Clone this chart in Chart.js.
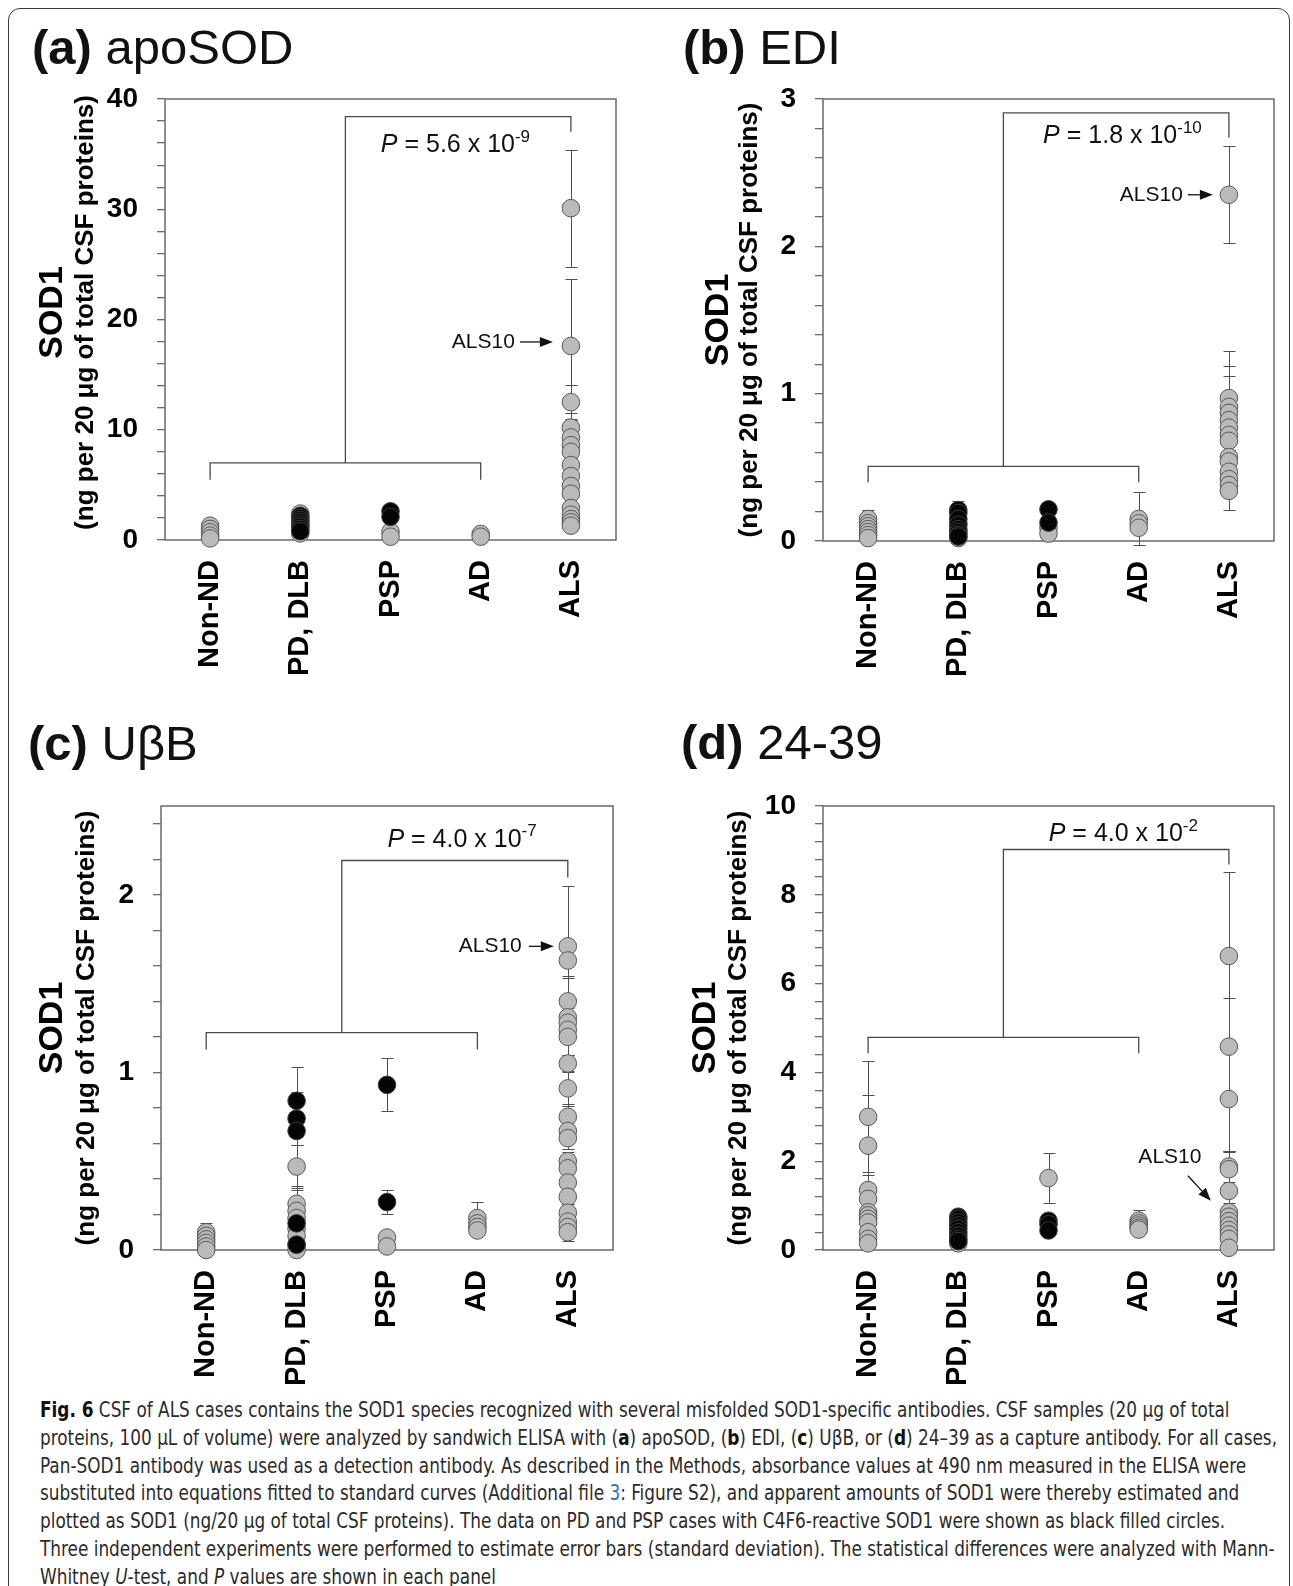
<!DOCTYPE html>
<html>
<head>
<meta charset="utf-8">
<title>CSF SOD1 ELISA</title>
<script src="https://cdn.jsdelivr.net/npm/chart.js@4.4.1/dist/chart.umd.min.js"></script>
<style>
  html, body { margin: 0; padding: 0; background: #fff; }
  body { width: 1293px; height: 1586px; position: relative; overflow: hidden;
         font-family: 'Liberation Sans', Arial, sans-serif; }
  #frame { position: absolute; left: 8px; top: 8px; width: 1282px; height: 1620px;
           border: 1.5px solid #3a3a3a; border-radius: 12px; box-sizing: border-box; }
  .panel-title { position: absolute; font-size: 49px; line-height: 49px; color: #111; white-space: nowrap; }
  canvas.panel { position: absolute; }
  #caption { position: absolute; left: 40px; top: 1397px; color: #2b2b2b;
             font-family: 'Liberation Sans Narrow', 'DejaVu Sans Condensed', 'Liberation Sans', sans-serif;
             font-size: 21px; }
  #caption .line { white-space: nowrap; width: max-content; height: 27.8px; line-height: 27.8px;
                   transform-origin: 0 50%; }
  #caption b { color: #111; }
  #caption .ref { color: #2a6ebb; }
</style>
</head>
<body>
<div id="frame"></div>
<div id="titles"></div>
<div id="caption">
  <div class="line"><b>Fig. 6</b> CSF of ALS cases contains the SOD1 species recognized with several misfolded SOD1-specific antibodies. CSF samples (20 μg of total</div>
  <div class="line">proteins, 100 μL of volume) were analyzed by sandwich ELISA with (<b>a</b>) apoSOD, (<b>b</b>) EDI, (<b>c</b>) UβB, or (<b>d</b>) 24–39 as a capture antibody. For all cases,</div>
  <div class="line">Pan-SOD1 antibody was used as a detection antibody. As described in the Methods, absorbance values at 490 nm measured in the ELISA were</div>
  <div class="line">substituted into equations fitted to standard curves (Additional file <span class="ref">3</span>: Figure S2), and apparent amounts of SOD1 were thereby estimated and</div>
  <div class="line">plotted as SOD1 (ng/20 μg of total CSF proteins). The data on PD and PSP cases with C4F6-reactive SOD1 were shown as black filled circles.</div>
  <div class="line">Three independent experiments were performed to estimate error bars (standard deviation). The statistical differences were analyzed with Mann-</div>
  <div class="line">Whitney <i>U</i>-test, and <i>P</i> values are shown in each panel</div>
</div>
<script>
// ---------------------------------------------------------------------------
// Labels
const CATEGORIES = ['Non-ND', 'PD, DLB', 'PSP', 'AD', 'ALS'];
const PANEL_LETTERS = ['(a)', '(b)', '(c)', '(d)'];
const ANTIBODIES = ['apoSOD', 'EDI', 'UβB', '24-39'];
const Y_TITLE = 'SOD1';
const Y_SUBTITLE = '(ng per 20 μg of total CSF proteins)';
const NOTE_LABEL = 'ALS10';

// y axis range and tick spacing for each panel
const Y_MAX = [40, 3, 2.5, 10];
const Y_MINOR_STEP = [2, 0.2, 0.2, 0.4];
const Y_LABEL_STEP = [10, 1, 1, 2];

// Mann-Whitney U-test P values (mantissa, power of ten)
const P_MANTISSA = ['5.6', '1.8', '4.0', '4.0'];
const P_EXPONENT = ['-9', '-10', '-7', '-2'];

// SOD1 of case ALS10 in each panel
const ALS10_VALUE = [17.6, 2.35, 1.71, 0.75];

// SOD1 (ng / 20 ug CSF protein): [group, mean, SD]
// gray = all cases, black = PD / PSP cases with C4F6-reactive SOD1
const APOSOD_GRAY = [
  ['Non-ND', 1.3, 0.1], ['Non-ND', 1.0, 0.1], ['Non-ND', 0.7, 0.1], ['Non-ND', 0.4, 0.1], ['Non-ND', 0.15, 0.1],
  ['PD, DLB', 2.4, 0.2], ['PD, DLB', 0.6, 0.1],
  ['PSP', 0.75, 0.1], ['PSP', 0.3, 0.1],
  ['AD', 0.55, 0.1], ['AD', 0.3, 0.1],
  ['ALS', 30.1, 5.3], ['ALS', 17.6, 6.1], ['ALS', 12.5, 1.6], ['ALS', 10.2, 0.8], ['ALS', 9.3, 0.6],
  ['ALS', 8.6, 0.5], ['ALS', 8.0, 0.6], ['ALS', 6.8, 0.4], ['ALS', 5.8, 0.5], ['ALS', 4.9, 0.4],
  ['ALS', 4.2, 0.3], ['ALS', 2.9, 0.2], ['ALS', 2.3, 0.2], ['ALS', 1.9, 0.2], ['ALS', 1.6, 0.1], ['ALS', 1.3, 0.1]
];
const APOSOD_BLACK = [
  ['PD, DLB', 2.2, 0.2], ['PD, DLB', 2.0, 0.1], ['PD, DLB', 1.8, 0.1], ['PD, DLB', 1.6, 0.1],
  ['PD, DLB', 1.4, 0.1], ['PD, DLB', 1.2, 0.1], ['PD, DLB', 1.0, 0.1], ['PD, DLB', 0.8, 0.1],
  ['PSP', 2.6, 0.1], ['PSP', 2.1, 0.1]
];

const EDI_GRAY = [
  ['Non-ND', 0.15, 0.06], ['Non-ND', 0.12, 0.04], ['Non-ND', 0.10, 0.03], ['Non-ND', 0.08, 0.03],
  ['Non-ND', 0.06, 0.02], ['Non-ND', 0.04, 0.02], ['Non-ND', 0.02, 0.02],
  ['PD, DLB', 0.12, 0.03], ['PD, DLB', 0.06, 0.02], ['PD, DLB', 0.02, 0.02],
  ['PSP', 0.09, 0.02], ['PSP', 0.05, 0.02],
  ['AD', 0.15, 0.18], ['AD', 0.12, 0.04], ['AD', 0.09, 0.03],
  ['ALS', 2.35, 0.33], ['ALS', 0.97, 0.32], ['ALS', 0.91, 0.10], ['ALS', 0.87, 0.32], ['ALS', 0.82, 0.30],
  ['ALS', 0.77, 0.10], ['ALS', 0.72, 0.10], ['ALS', 0.68, 0.08], ['ALS', 0.57, 0.10], ['ALS', 0.54, 0.08],
  ['ALS', 0.47, 0.08], ['ALS', 0.42, 0.06], ['ALS', 0.38, 0.06], ['ALS', 0.34, 0.13]
];
const EDI_BLACK = [
  ['PD, DLB', 0.21, 0.06], ['PD, DLB', 0.19, 0.04], ['PD, DLB', 0.15, 0.03], ['PD, DLB', 0.11, 0.03],
  ['PD, DLB', 0.08, 0.02], ['PD, DLB', 0.06, 0.02], ['PD, DLB', 0.04, 0.02], ['PD, DLB', 0.03, 0.02],
  ['PSP', 0.215, 0.02], ['PSP', 0.125, 0.02]
];

const UBB_GRAY = [
  ['Non-ND', 0.10, 0.05], ['Non-ND', 0.08, 0.03], ['Non-ND', 0.06, 0.03], ['Non-ND', 0.04, 0.02],
  ['Non-ND', 0.02, 0.02], ['Non-ND', 0.0, 0.02],
  ['PD, DLB', 0.47, 0.12], ['PD, DLB', 0.26, 0.10], ['PD, DLB', 0.22, 0.12], ['PD, DLB', 0.18, 0.10],
  ['PD, DLB', 0.12, 0.05], ['PD, DLB', 0.08, 0.04], ['PD, DLB', 0.03, 0.02], ['PD, DLB', 0.0, 0.02],
  ['PSP', 0.07, 0.02], ['PSP', 0.02, 0.02],
  ['AD', 0.18, 0.09], ['AD', 0.15, 0.07], ['AD', 0.13, 0.03], ['AD', 0.11, 0.02],
  ['ALS', 1.71, 0.34], ['ALS', 1.63, 0.10], ['ALS', 1.40, 0.14], ['ALS', 1.31, 0.10], ['ALS', 1.28, 0.08],
  ['ALS', 1.24, 0.06], ['ALS', 1.20, 0.10], ['ALS', 1.05, 0.05], ['ALS', 0.91, 0.10], ['ALS', 0.75, 0.07],
  ['ALS', 0.67, 0.05], ['ALS', 0.63, 0.06], ['ALS', 0.50, 0.05], ['ALS', 0.46, 0.05], ['ALS', 0.38, 0.05],
  ['ALS', 0.30, 0.04], ['ALS', 0.21, 0.05], ['ALS', 0.16, 0.05], ['ALS', 0.13, 0.05], ['ALS', 0.10, 0.05]
];
const UBB_BLACK = [
  ['PD, DLB', 0.84, 0.19], ['PD, DLB', 0.74, 0.15], ['PD, DLB', 0.67, 0.08], ['PD, DLB', 0.15, 0.05], ['PD, DLB', 0.03, 0.02],
  ['PSP', 0.93, 0.15], ['PSP', 0.27, 0.07]
];

const AB2439_GRAY = [
  ['Non-ND', 3.0, 1.25], ['Non-ND', 2.35, 1.15], ['Non-ND', 1.35, 0.35], ['Non-ND', 1.15, 0.37],
  ['Non-ND', 0.85, 0.2], ['Non-ND', 0.78, 0.2], ['Non-ND', 0.70, 0.15], ['Non-ND', 0.62, 0.1],
  ['Non-ND', 0.40, 0.1], ['Non-ND', 0.25, 0.1], ['Non-ND', 0.15, 0.05],
  ['PD, DLB', 0.15, 0.05],
  ['PSP', 1.62, 0.56],
  ['AD', 0.66, 0.23], ['AD', 0.60, 0.1], ['AD', 0.55, 0.1], ['AD', 0.50, 0.1], ['AD', 0.46, 0.1],
  ['ALS', 6.62, 1.9], ['ALS', 4.58, 1.09], ['ALS', 3.40, 1.2], ['ALS', 1.88, 0.35], ['ALS', 1.82, 0.4],
  ['ALS', 1.33, 0.35], ['ALS', 0.85, 0.2], ['ALS', 0.75, 0.2], ['ALS', 0.65, 0.15], ['ALS', 0.55, 0.1],
  ['ALS', 0.45, 0.1], ['ALS', 0.35, 0.1], ['ALS', 0.25, 0.1], ['ALS', 0.05, 0.05]
];
const AB2439_BLACK = [
  ['PD, DLB', 0.75, 0.1], ['PD, DLB', 0.70, 0.1], ['PD, DLB', 0.62, 0.1], ['PD, DLB', 0.55, 0.08],
  ['PD, DLB', 0.48, 0.08], ['PD, DLB', 0.40, 0.06], ['PD, DLB', 0.32, 0.06], ['PD, DLB', 0.25, 0.05], ['PD, DLB', 0.20, 0.05],
  ['PSP', 0.66, 0.1], ['PSP', 0.58, 0.1], ['PSP', 0.44, 0.08]
];

const GRAY_SETS = [APOSOD_GRAY, EDI_GRAY, UBB_GRAY, AB2439_GRAY];
const BLACK_SETS = [APOSOD_BLACK, EDI_BLACK, UBB_BLACK, AB2439_BLACK];

// ---------------------------------------------------------------------------
// Page layout of the four panels (page pixels); bracket levels in axis units
const PANEL_LAYOUT = [
  { canvas: { left: 0, top: 59, width: 646, height: 641 }, area: { left: 165, top: 99, right: 616, bottom: 540 },
    title: { x: 32, baseline: 64 }, yTitleX: [53, 86], yTitleShift: -7,
    bracket: { low: 7.0, high: 38.4, legLow: 17, legHigh: 15 }, pAt: [3.22, 36.0],
    note: { kind: 'h', textEnd: -56, from: -51, to: -18, dy: -4 } },
  { canvas: { left: 646, top: 59, width: 647, height: 641 }, area: { left: 823, top: 99, right: 1274, bottom: 541 },
    title: { x: 683, baseline: 64 }, yTitleX: [719, 750], yTitleShift: 0,
    bracket: { low: 0.507, high: 2.906, legLow: 16, legHigh: 25 }, pAt: [3.32, 2.76],
    note: { kind: 'h', textEnd: -46, from: -41, to: -16, dy: 0 } },
  { canvas: { left: 0, top: 766, width: 646, height: 634 }, area: { left: 161, top: 806, right: 613, bottom: 1250 },
    title: { x: 28, baseline: 760 }, yTitleX: [53, 87], yTitleShift: 0,
    bracket: { low: 1.224, high: 2.193, legLow: 17, legHigh: 17 }, pAt: [3.33, 2.32],
    note: { kind: 'h', textEnd: -46, from: -39, to: -14, dy: 0 } },
  { canvas: { left: 646, top: 766, width: 647, height: 634 }, area: { left: 823, top: 806, right: 1274, bottom: 1250 },
    title: { x: 681, baseline: 759 }, yTitleX: [706, 739], yTitleShift: 0,
    bracket: { low: 4.79, high: 9.02, legLow: 16, legHigh: 15 }, pAt: [3.33, 9.41],
    note: { kind: 'd', text: [-59, -59], from: [-41, -41], to: [-18, -16] } }
];

const FONT = "'Liberation Sans', Arial, sans-serif";
const TITLE_SIZE = 49;
const Y_AXIS_W = 70;
const X_AXIS_H = 140;

Chart.defaults.font.family = FONT;
Chart.defaults.color = '#000';

const groupX = name => CATEGORIES.indexOf(name) + 0.5;
const toPoints = rows => rows.map(([g, v, sd]) => ({ x: groupX(g), y: v, sd }));

function drawArrow(ctx, x1, y1, x2, y2) {
  const ang = Math.atan2(y2 - y1, x2 - x1), len = 13, half = 5;
  const bx = x2 - len * Math.cos(ang), by = y2 - len * Math.sin(ang);
  ctx.beginPath(); ctx.moveTo(x1, y1); ctx.lineTo(bx, by); ctx.stroke();
  ctx.beginPath();
  ctx.moveTo(x2, y2);
  ctx.lineTo(bx + half * Math.sin(ang), by - half * Math.cos(ang));
  ctx.lineTo(bx - half * Math.sin(ang), by + half * Math.cos(ang));
  ctx.closePath(); ctx.fill();
}

// Frame, comparison brackets, SD bars, P value, ALS10 note and y-axis titles
const figurePlugin = {
  id: 'figure',
  beforeDatasetsDraw(chart, _args, opts) {
    const { ctx, chartArea: a, scales: { x, y } } = chart;
    const L = PANEL_LAYOUT[opts.index];
    ctx.save();
    ctx.strokeStyle = '#6a6a6a'; ctx.lineWidth = 1.5;
    ctx.strokeRect(a.left, a.top, a.right - a.left, a.bottom - a.top);

    const xa = x.getPixelForValue(groupX('Non-ND'));
    const xb = x.getPixelForValue(groupX('AD'));
    const xc = x.getPixelForValue(groupX('ALS'));
    const xm = (xa + xb) / 2;
    const yl = y.getPixelForValue(L.bracket.low), yh = y.getPixelForValue(L.bracket.high);
    ctx.strokeStyle = '#4a4a4a'; ctx.lineWidth = 1.3;
    ctx.beginPath();
    ctx.moveTo(xa, yl + L.bracket.legLow); ctx.lineTo(xa, yl); ctx.lineTo(xb, yl); ctx.lineTo(xb, yl + L.bracket.legLow);
    ctx.moveTo(xm, yl); ctx.lineTo(xm, yh); ctx.lineTo(xc, yh); ctx.lineTo(xc, yh + L.bracket.legHigh);
    ctx.stroke();

    ctx.strokeStyle = '#505050'; ctx.lineWidth = 1;
    chart.data.datasets.forEach(ds => ds.data.forEach(pt => {
      const px = Math.round(x.getPixelForValue(pt.x)) + 0.5;
      const t = Math.round(y.getPixelForValue(pt.y + pt.sd)) + 0.5;
      const b = Math.round(y.getPixelForValue(pt.y - pt.sd)) + 0.5;
      ctx.beginPath();
      ctx.moveTo(px, t); ctx.lineTo(px, b);
      ctx.moveTo(px - 6, t); ctx.lineTo(px + 6, t);
      ctx.moveTo(px - 6, b); ctx.lineTo(px + 6, b);
      ctx.stroke();
    }));
    ctx.restore();
  },
  afterDatasetsDraw(chart, _args, opts) {
    const { ctx, scales: { x, y } } = chart;
    const i = opts.index, L = PANEL_LAYOUT[i];
    ctx.save();
    ctx.fillStyle = '#111'; ctx.strokeStyle = '#111';
    ctx.textAlign = 'left'; ctx.textBaseline = 'alphabetic';

    // P value, centred on its anchor
    const size = 25;
    const parts = [
      { t: 'P', f: `italic ${size}px ${FONT}`, rise: 0 },
      { t: ` = ${P_MANTISSA[i]} x 10`, f: `${size}px ${FONT}`, rise: 0 },
      { t: P_EXPONENT[i], f: `${Math.round(size * 0.68)}px ${FONT}`, rise: size * 0.42 }
    ];
    let w = 0;
    parts.forEach(p => { ctx.font = p.f; p.w = ctx.measureText(p.t).width; w += p.w; });
    let cur = x.getPixelForValue(L.pAt[0]) - w / 2;
    const base = y.getPixelForValue(L.pAt[1]) + size * 0.36;
    parts.forEach(p => { ctx.font = p.f; ctx.fillText(p.t, cur, base - p.rise); cur += p.w; });

    // ALS10 note with arrow
    const ax = x.getPixelForValue(groupX('ALS')), ay = y.getPixelForValue(ALS10_VALUE[i]);
    const n = L.note;
    ctx.font = `21px ${FONT}`;
    ctx.lineWidth = 1.3;
    if (n.kind === 'h') {
      ctx.textAlign = 'right'; ctx.textBaseline = 'middle';
      ctx.fillText(NOTE_LABEL, ax + n.textEnd, ay + n.dy);
      drawArrow(ctx, ax + n.from, ay + n.dy, ax + n.to, ay + n.dy);
    } else {
      ctx.textAlign = 'center'; ctx.textBaseline = 'middle';
      ctx.fillText(NOTE_LABEL, ax + n.text[0], ay + n.text[1]);
      drawArrow(ctx, ax + n.from[0], ay + n.from[1], ax + n.to[0], ay + n.to[1]);
    }
    ctx.restore();
  },
  afterDraw(chart, _args, opts) {
    const { ctx, chartArea: a } = chart;
    const L = PANEL_LAYOUT[opts.index];
    const cy = (a.top + a.bottom) / 2 + L.yTitleShift;
    ctx.save();
    ctx.fillStyle = '#000'; ctx.textAlign = 'center'; ctx.textBaseline = 'middle';
    [[Y_TITLE, `bold 34px ${FONT}`, L.yTitleX[0]], [Y_SUBTITLE, `bold 26px ${FONT}`, L.yTitleX[1]]]
      .forEach(([t, f, px]) => {
        ctx.save();
        ctx.translate(px - L.canvas.left, cy);
        ctx.rotate(-Math.PI / 2);
        ctx.font = f;
        ctx.fillText(t, 0, 0);
        ctx.restore();
      });
    ctx.restore();
  }
};

function yTicks(i) {
  const out = [];
  const n = Math.floor(Y_MAX[i] / Y_MINOR_STEP[i] + 1e-9);
  for (let k = 0; k <= n; k++) out.push({ value: +(k * Y_MINOR_STEP[i]).toFixed(6) });
  return out;
}
const isLabelTick = (v, step) => Math.abs(v / step - Math.round(v / step)) < 1e-6;

PANEL_LAYOUT.forEach((L, i) => {
  // panel heading
  const t = document.createElement('div');
  t.className = 'panel-title';
  t.style.left = L.title.x + 'px';
  t.style.top = (L.title.baseline - 0.8465 * TITLE_SIZE) + 'px';
  t.innerHTML = `<b>${PANEL_LETTERS[i]}</b> ${ANTIBODIES[i]}`;
  document.getElementById('titles').appendChild(t);

  const cv = document.createElement('canvas');
  cv.className = 'panel';
  cv.width = L.canvas.width; cv.height = L.canvas.height;
  cv.style.left = L.canvas.left + 'px'; cv.style.top = L.canvas.top + 'px';
  document.body.appendChild(cv);

  new Chart(cv, {
    type: 'scatter',
    data: {
      datasets: [
        { data: toPoints(BLACK_SETS[i]), pointRadius: 8.8, pointBackgroundColor: '#050505',
          pointBorderColor: '#3a3a3a', pointBorderWidth: 1, clip: false },
        { data: toPoints(GRAY_SETS[i]), pointRadius: 8.8, pointBackgroundColor: '#bababa',
          pointBorderColor: '#585858', pointBorderWidth: 1, clip: false }
      ]
    },
    options: {
      responsive: false,
      animation: false,
      events: [],
      layout: {
        autoPadding: false,
        padding: {
          left: L.area.left - L.canvas.left - Y_AXIS_W,
          top: L.area.top - L.canvas.top,
          right: L.canvas.left + L.canvas.width - L.area.right,
          bottom: L.canvas.top + L.canvas.height - L.area.bottom - X_AXIS_H
        }
      },
      plugins: { legend: { display: false }, tooltip: { enabled: false }, figure: { index: i } },
      scales: {
        x: {
          type: 'linear', min: 0, max: CATEGORIES.length,
          afterBuildTicks: s => { s.ticks = CATEGORIES.map(c => ({ value: groupX(c) })); },
          afterFit: s => { s.height = X_AXIS_H; s.paddingLeft = 0; s.paddingRight = 0; },
          ticks: { callback: (v, k) => CATEGORIES[k], autoSkip: false, minRotation: 90, maxRotation: 90,
                   padding: 12, color: '#000', font: { size: 29, weight: 'bold' } },
          grid: { display: false },
          border: { display: false }
        },
        y: {
          min: 0, max: Y_MAX[i],
          afterBuildTicks: s => { s.ticks = yTicks(i); },
          afterFit: s => { s.width = Y_AXIS_W; s.paddingTop = 0; s.paddingBottom = 0; },
          ticks: { callback: v => (isLabelTick(v, Y_LABEL_STEP[i]) ? String(+v.toFixed(6)) : ''),
                   autoSkip: false, padding: 19, color: '#000', font: { size: 28, weight: 'bold' } },
          grid: { drawOnChartArea: false, drawTicks: true, tickLength: 8, color: '#6a6a6a', lineWidth: 1.3 },
          border: { display: false }
        }
      }
    },
    plugins: [figurePlugin]
  });
});

// Caption: keep the printed line breaks, fit the longest line to the text block
(function fitCaption() {
  const lines = document.querySelectorAll('#caption .line');
  const target = 1237;
  const s = target / lines[1].getBoundingClientRect().width;
  lines.forEach(l => { l.style.transform = `scaleX(${s})`; });
})();
</script>
</body>
</html>
